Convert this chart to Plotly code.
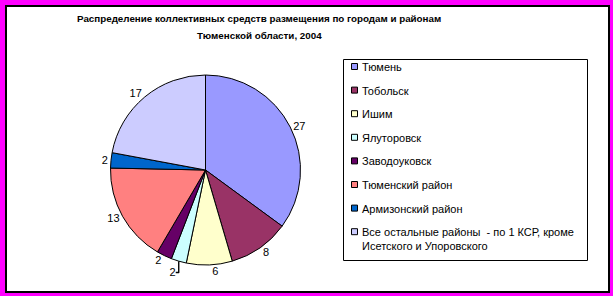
import plotly.graph_objects as go

W, H = 613, 296

labels = ["Тюмень", "Тобольск", "Ишим", "Ялуторовск", "Заводоуковск",
          "Тюменский район", "Армизонский район",
          "Все остальные районы  - по 1 КСР, кроме<br>Исетского и Упоровского"]
values = [27, 8, 6, 2, 2, 13, 2, 17]
colors = ["#9999FF", "#993366", "#FFFFCC", "#CCFFFF", "#660066",
          "#FF8080", "#0066CC", "#CCCCFF"]
title_lines = ["Распределение коллективных средств размещения по городам и районам",
               "Тюменской области, 2004"]

FONT = "Liberation Sans, Arial, sans-serif"

def px(x):
    return x / W

def py(y):
    return 1 - y / H

# pie geometry (pixels)
cx, cy, r = 205.5, 170, 95

fig = go.Figure()
fig.add_trace(go.Pie(
    labels=labels, values=values, sort=False, direction="clockwise", rotation=0,
    marker=dict(colors=colors, line=dict(color="#000000", width=1)),
    textinfo="value", textposition="outside",
    textfont=dict(family=FONT, size=11, color="#000000"),
    domain=dict(x=[px(cx - r), px(cx + r)], y=[py(cy + r), py(cy - r)]),
    showlegend=False, hoverinfo="label+value",
))

shapes = [
    # white chart area with black frame
    dict(type="rect", xref="paper", yref="paper", x0=px(6), x1=px(609), y0=py(6), y1=py(292),
         fillcolor="#FFFFFF", line=dict(color="#000000", width=2), layer="below"),
    # legend box
    dict(type="rect", xref="paper", yref="paper", x0=px(343.5), x1=px(587.5), y0=py(59.5), y1=py(260.5),
         fillcolor="rgba(0,0,0,0)", line=dict(color="#000000", width=1), layer="above"),
]
annotations = []
for i, t in enumerate(title_lines):
    annotations.append(dict(text=f"<b>{t}</b>", x=px(259), y=py(19 + 17 * i), xref="paper", yref="paper",
                            showarrow=False, xanchor="center", yanchor="middle",
                            font=dict(family=FONT, size=9.8, color="#000000")))

leg_y0, leg_dy = 66, 23.6
for i, (lab, col) in enumerate(zip(labels, colors)):
    yc = leg_y0 + leg_dy * i
    shapes.append(dict(type="rect", xref="paper", yref="paper",
                       x0=px(351.5), x1=px(357.5), y0=py(yc + 3.5), y1=py(yc - 2.5),
                       fillcolor=col, line=dict(color="#000000", width=1), layer="above"))
    annotations.append(dict(text=lab, x=px(360), y=py(yc - 7), xref="paper", yref="paper",
                            showarrow=False, xanchor="left", yanchor="top", align="left",
                            font=dict(family=FONT, size=11, color="#000000")))

fig.update_layout(
    width=W, height=H, margin=dict(l=0, r=0, t=0, b=0, pad=0),
    paper_bgcolor="#FF00FF", plot_bgcolor="#FFFFFF",
    shapes=shapes, annotations=annotations, showlegend=False,
)
fig.write_html("out.html")
